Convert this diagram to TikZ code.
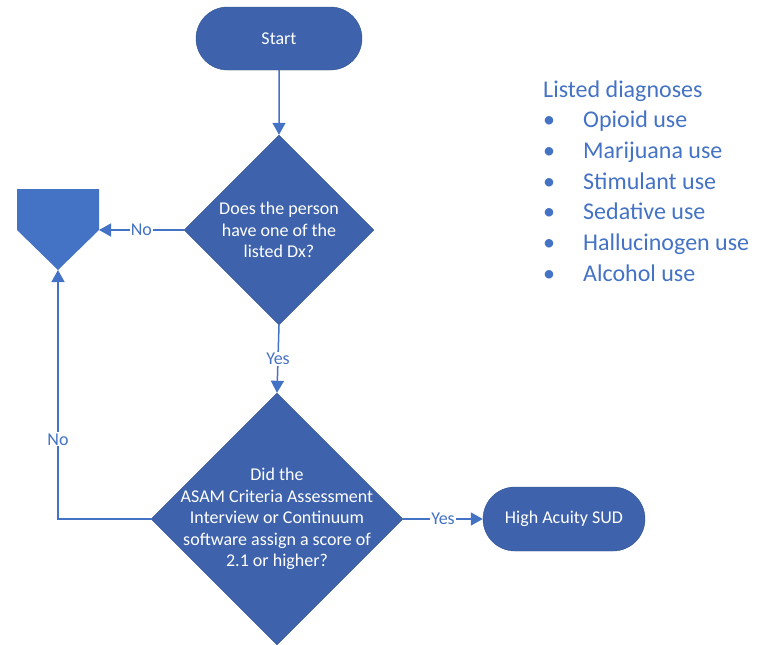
\documentclass[tikz,border=0pt]{standalone}
\usepackage{fontspec}
\setmainfont{Carlito}
\usetikzlibrary{shapes.geometric,shapes.misc,arrows.meta}
\definecolor{flowblue}{HTML}{3E63AC}
\definecolor{lineblue}{HTML}{4472C4}
\definecolor{edgeblue}{HTML}{2F528F}
\tikzset{
  terminal/.style={rounded rectangle, draw=edgeblue, fill=flowblue, text=white,
    minimum width=166pt, minimum height=63pt, inner sep=0pt,
    font=\fontsize{18}{21.5}\selectfont},
  decision/.style={diamond, draw=edgeblue, fill=flowblue, inner sep=0pt,
    minimum width=#1, minimum height=#1},
  flowtext/.style={text=white, align=center, font=\fontsize{18}{21.5}\selectfont},
  arrow/.style={draw=lineblue, line width=1.5pt, -{Triangle[length=12pt,width=13pt]}},
  answer/.style={fill=white, text=lineblue, inner sep=1pt, font=\fontsize{18}{21.5}\selectfont},
  listtext/.style={text=lineblue, anchor=base west, inner sep=0pt, font=\fontsize{24}{29}\selectfont}
}
\begin{document}
\begin{tikzpicture}[x=1pt,y=-1pt]
  \useasboundingbox (0,0) rectangle (761,645);

	% Shapes
  \node[terminal] (start) at (279,38.5) {Start};
  \node[decision=190pt] (dx) at (279,230) {};
  \node[flowtext] (dxtext) at (dx.center) {Does the person\\have one of the\\listed Dx?};
  \node[decision=252pt] (asam) at (277,519) {};
  \node[flowtext] (asamtext) at (asam.center) {Did the\\ASAM Criteria Assessment\\Interview or Continuum\\software assign a score of\\2.1 or higher?};
  \node[terminal, minimum width=162pt, minimum height=64pt] (sud) at (564,519) {High Acuity SUD};

	% Off-page connector
  \fill[lineblue] (17,189) coordinate (off_nw) -- (99,189) -- (99,230) coordinate (off_e)
    -- (58,270) coordinate (off_s) -- (17,230) -- cycle;

	% Connectors
  \draw[arrow] (start) -- (dx);
  \draw[arrow] (dx.west) -- node[answer] (no1) {No} (off_e);
  \draw[arrow] (dx.south) -- node[answer] (yes1) {Yes} (asam.north);
  \draw[arrow] (asam.east) -- node[answer] (yes2) {Yes} (sud.west);
  \draw[arrow] (asam.west) -| node[answer, pos=0.66] (no2) {No} (off_s);

	% Legend
  \node[listtext] (listhead) at (543,97) {Listed diagnoses};
  \foreach \item [count=\i] in {Opioid use, Marijuana use, Stimulant use, Sedative use, Hallucinogen use, Alcohol use}{
    \node[listtext, anchor=base] (dot\i) at (549,97+30.7*\i) {•};
    \node[listtext] (diag\i) at (583,97+30.7*\i) {\item};
  }

\end{tikzpicture}
\end{document}
